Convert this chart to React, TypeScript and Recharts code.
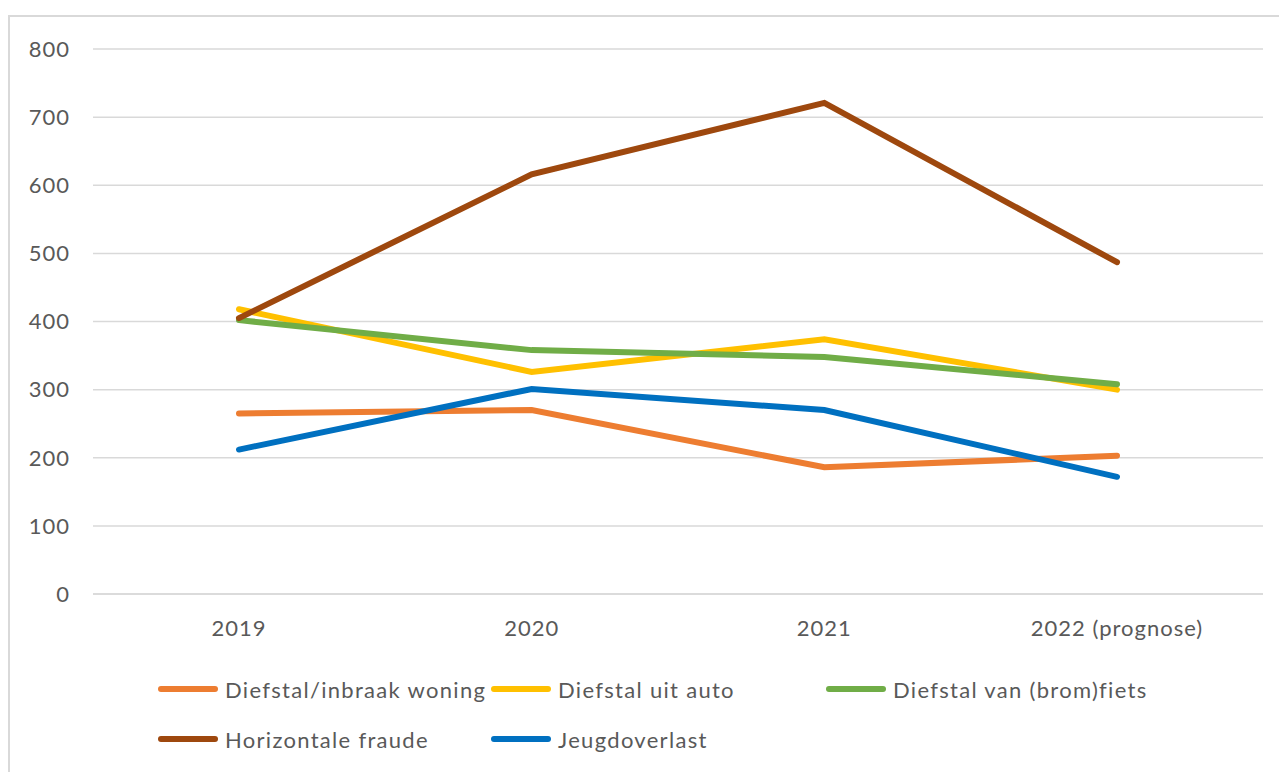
import { LineChart, Line, XAxis, YAxis, CartesianGrid } from "recharts";

const jaren = ["2019", "2020", "2021", "2022 (prognose)"];
const inbraakWoning = [265, 270, 186, 203];
const uitAuto = [418, 326, 374, 300];
const bromfiets = [402, 358, 348, 308];
const horizontaleFraude = [405, 616, 721, 487];
const jeugdoverlast = [212, 301, 270, 172];
const yTicks = [0, 100, 200, 300, 400, 500, 600, 700, 800];

const series = [
  { key: "inbraak", naam: "Diefstal/inbraak woning", kleur: "#ED7D31", waarden: inbraakWoning },
  { key: "auto", naam: "Diefstal uit auto", kleur: "#FFC000", waarden: uitAuto },
  { key: "fiets", naam: "Diefstal van (brom)fiets", kleur: "#70AD47", waarden: bromfiets },
  { key: "fraude", naam: "Horizontale fraude", kleur: "#9E480E", waarden: horizontaleFraude },
  { key: "jeugd", naam: "Jeugdoverlast", kleur: "#0070C0", waarden: jeugdoverlast },
];

const data = jaren.map((jaar, i) => {
  const rij: any = { jaar };
  series.forEach((s) => (rij[s.key] = s.waarden[i]));
  return rij;
});

const font = "Lato, 'Open Sans', sans-serif";
const tekstKleur = "#595959";
const rasterKleur = "#D9D9D9";

// legend: 3 columns, 2 rows like the Excel original
const legendPos = [
  { left: 158, top: 689 },
  { left: 491, top: 689 },
  { left: 826, top: 689 },
  { left: 158, top: 739 },
  { left: 491, top: 739 },
];

export default function App() {
  return (
    <div style={{ position: "absolute", left: 0, top: 0, width: 1279, height: 772, overflow: "hidden", background: "#fff", fontFamily: font }}>
      <div style={{ position: "absolute", left: 8, top: 15, width: 1320, height: 820, border: `2px solid ${rasterKleur}` }} />
      <LineChart
        width={1279}
        height={772}
        data={data}
        margin={{ top: 49, right: 16, left: 0, bottom: 118 }}
        style={{ position: "absolute", left: 0, top: 0 }}
      >
        <CartesianGrid vertical={false} stroke={rasterKleur} strokeWidth={1.5} />
        <XAxis
          dataKey="jaar"
          padding={{ left: 146, right: 146 }}
          axisLine={{ stroke: rasterKleur, strokeWidth: 1.5 }}
          tickLine={false}
          tickMargin={20}
          height={60}
          tick={{ fontSize: 22, fill: tekstKleur, fontFamily: font, letterSpacing: 1 }}
        />
        <YAxis
          width={93}
          domain={[0, 800]}
          ticks={yTicks}
          axisLine={false}
          tickLine={false}
          tickMargin={17}
          tick={{ fontSize: 22, fill: tekstKleur, fontFamily: font, letterSpacing: 1 }}
        />
        {series.map((s) => (
          <Line
            key={s.key}
            dataKey={s.key}
            name={s.naam}
            stroke={s.kleur}
            strokeWidth={6}
            strokeLinecap="round"
            dot={false}
            activeDot={false}
            isAnimationActive={false}
          />
        ))}
      </LineChart>
      {series.map((s, i) => (
        <div
          key={s.key}
          style={{
            position: "absolute",
            left: legendPos[i].left,
            top: legendPos[i].top - 15,
            height: 30,
            display: "flex",
            alignItems: "center",
            fontSize: 22,
            letterSpacing: 1.3,
            color: tekstKleur,
            whiteSpace: "nowrap",
          }}
        >
          <span style={{ display: "inline-block", width: 60, height: 6, borderRadius: 3, background: s.kleur, marginRight: 7 }} />
          {s.naam}
        </div>
      ))}
    </div>
  );
}
